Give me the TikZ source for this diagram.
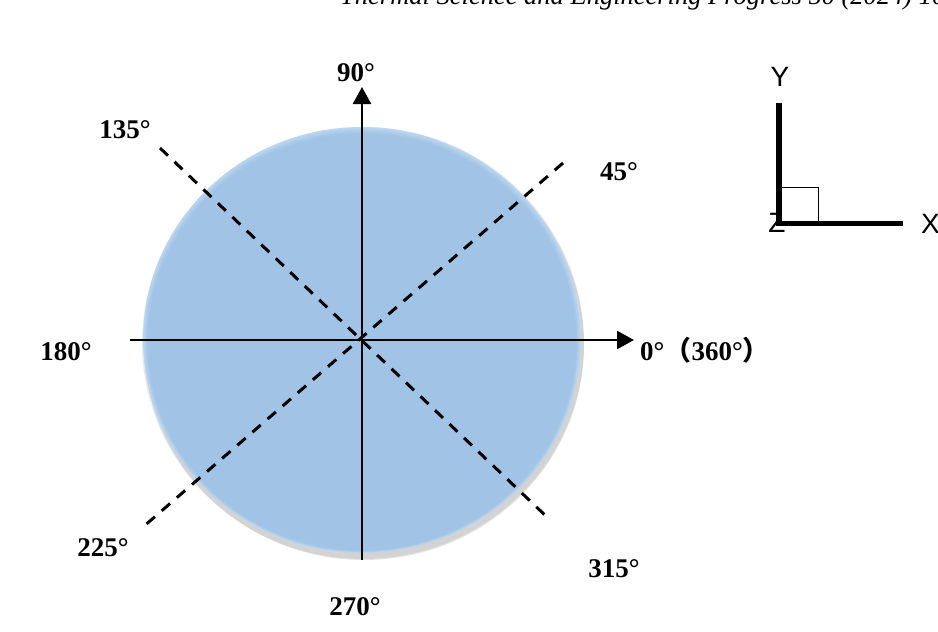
\documentclass[tikz,border=0pt]{standalone}
\usepackage{fontspec}
\setmainfont{Liberation Serif}
\newfontfamily\cjkfont{Noto Sans CJK SC}
\newfontfamily\axfont{Liberation Sans}
\usetikzlibrary{arrows.meta}
\definecolor{discblue}{HTML}{A0C3E6}
\definecolor{discrim}{HTML}{BCD7F0}
\begin{document}
\begin{tikzpicture}[x=1pt,y=-1pt,
  lbl/.style={font=\fontsize{27}{27}\selectfont\bfseries, inner sep=0pt},
  axlbl/.style={font=\axfont\fontsize{28}{28}\selectfont, inner sep=0pt},
  axisline/.style={line width=2.5pt,-{Triangle[length=17pt,width=18pt]}},
  diag/.style={line width=3pt,dash pattern=on 11pt off 9pt},
  iconline/.style={line width=5.5pt},
]
\useasboundingbox (0,0) rectangle (938,632);
\clip (0,0) rectangle (938,632);
% header (cut off at the top edge, as in the reference)
\node[font=\itshape\fontsize{26.5}{26.5}\selectfont, anchor=base west, inner sep=0pt] (hdr) at (340,4) {Thermal Science and Engineering Progress 50 (2024) 10};
% disc
\coordinate (O) at (362,340);
\fill[black, opacity=0.10] (364,345) ellipse (220pt and 215pt);
\fill[black, opacity=0.08] (363,343) ellipse (221pt and 216pt);
\fill[discrim] (O) ellipse (219pt and 213pt);
\foreach \k in {1,...,8}{
  \pgfmathsetmacro{\mix}{100-\k*12.5}
  \pgfmathsetmacro{\rx}{219-0.6*\k}
  \pgfmathsetmacro{\ry}{213-0.6*\k}
  \pgfmathsetmacro{\cy}{340+0.25*\k}
  \fill[discrim!\mix!discblue] (362,\cy) ellipse (\rx pt and \ry pt);
}
% dashed diagonals
\coordinate (d135) at (160,148);
\coordinate (d315) at (548,518);
\coordinate (d45) at (563,163);
\coordinate (d225) at (143,527);
\draw[diag] (d135) -- (d315);
\draw[diag] (d45) -- (d225);
% axes
\coordinate (xl) at (130,340);
\coordinate (xr) at (634,340);
\coordinate (yb) at (362,560);
\coordinate (yt) at (362,87);
\draw[axisline] (xl) -- (xr);
\draw[axisline] (yb) -- (yt);
% labels
\node[lbl] (l90) at (356,73) {90°};
\node[lbl] (l135) at (125,130) {135°};
\node[lbl] (l45) at (619,172) {45°};
\node[lbl] (l180) at (66,352) {180°};
\node[lbl, anchor=west] (l0) at (640,350) {0°\cjkfont （\rmfamily 360°\cjkfont ）};
\node[lbl] (l225) at (103,548) {225°};
\node[lbl] (l270) at (355,607) {270°};
\node[lbl] (l315) at (614,569) {315°};
% axis icon
\node[axlbl] (z) at (777,223) {Z};
\coordinate (ic) at (779,223.5);
\coordinate (icy) at (779,103);
\coordinate (icx) at (903,223.5);
\draw[line width=1pt, fill=white] (780,187) rectangle (818,223.5);
\draw[iconline] (icy) -- (ic) -- (icx);
\node[axlbl] (y) at (780,77) {Y};
\node[axlbl, anchor=west] (x) at (921,224) {X};
\end{tikzpicture}
\end{document}
